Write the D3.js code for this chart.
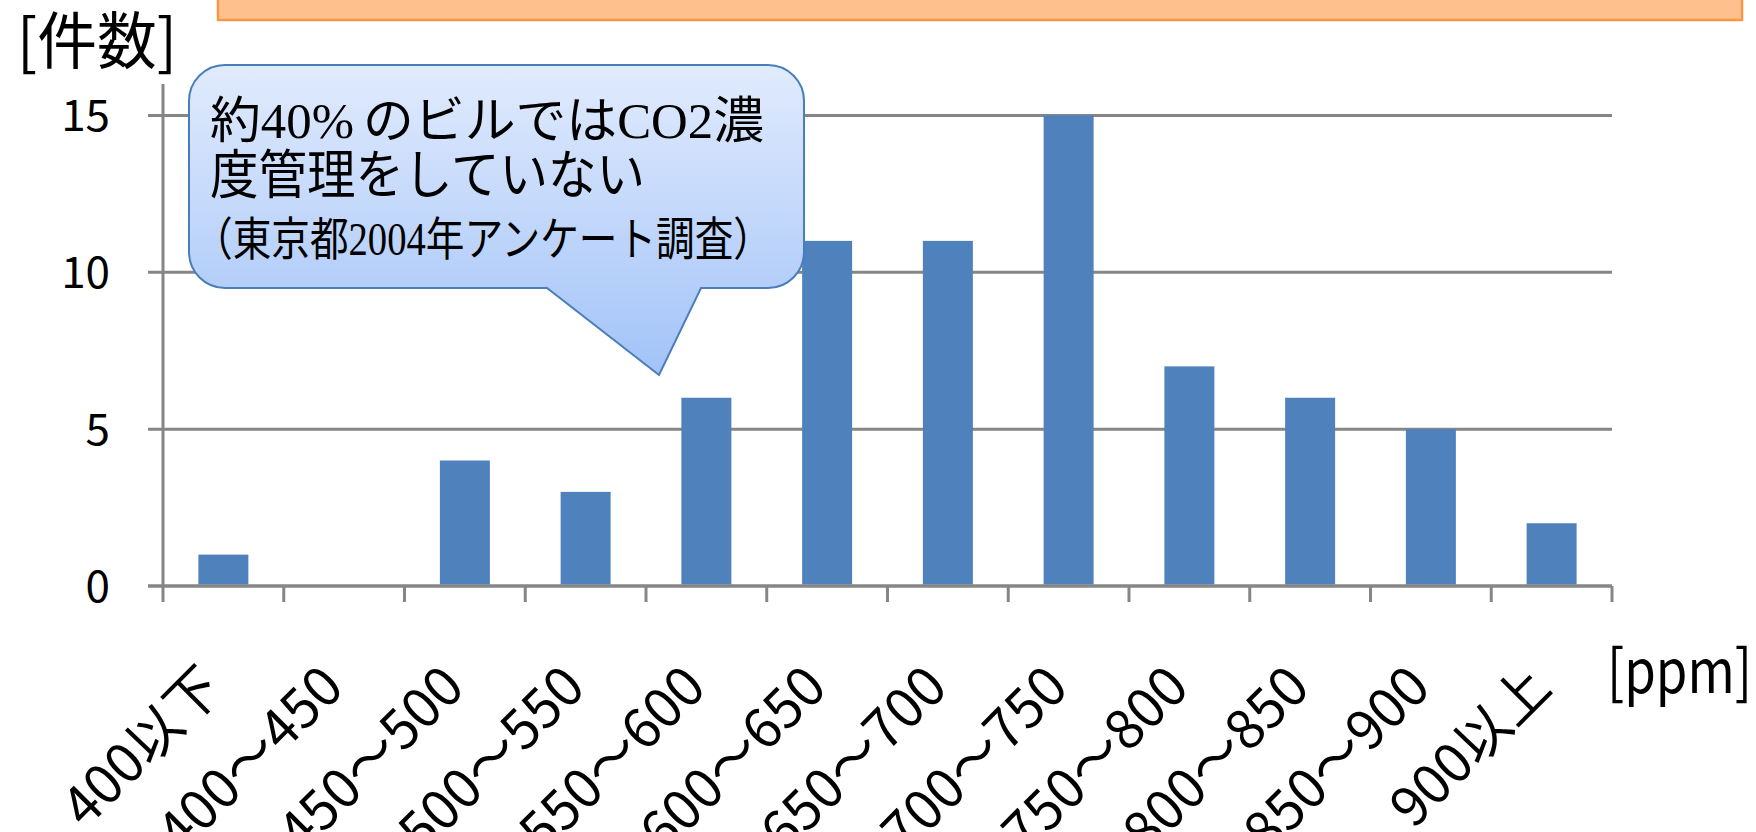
<!DOCTYPE html>
<html><head><meta charset="utf-8">
<script src="https://cdn.jsdelivr.net/npm/d3@7"></script>
<style>body{margin:0;background:#fff;overflow:hidden} svg{display:block}</style>
</head><body><svg id="c" width="1756" height="832"></svg>
<script>
// ---- data ----
const categories = ["400以下","400～450","450～500","500～550","550～600","600～650","650～700","700～750","750～800","800～850","850～900","900以上"];
const counts = [1,0,4,3,6,11,11,15,7,6,5,2];
const yTicks = [0,5,10,15];
const yMax = 16;
const yAxisTitle = "[件数]";
const xAxisTitle = "[ppm]";
const calloutLine1 = [["約",0],["40%",1],["のビルでは",0],["CO2",1],["濃",0]];
const calloutLine2 = [["度管理をしていない",0]];
const calloutLine3 = [["（東京都",0],["2004",1],["年アンケート調査）",0]];

(function () {
// ---- layout ----
const svg = d3.select("#c");
const pL = 163, pR = 1612, pT = 84, pB = 586;
const axisColor = "#868686";
const cjk = "'Noto Sans CJK JP', 'Noto Sans', sans-serif";
const serif = "'Liberation Serif', 'DejaVu Serif', serif";

const x = d3.scaleBand().domain(categories).range([pL, pR]).padding(0);
const y = d3.scaleLinear().domain([0, yMax]).range([pB, pT]);
const barW = x.step() * 0.414;

// orange header box (cut off at top)
svg.append("rect").attr("x", 218).attr("y", -10).attr("width", 1524).attr("height", 30)
  .attr("fill", "#fec08c").attr("stroke", "#f79646").attr("stroke-width", 2.5);

// gridlines
svg.append("g").selectAll("line").data(yTicks).join("line")
  .attr("x1", pL - 15).attr("x2", pR)
  .attr("y1", d => y(d)).attr("y2", d => y(d))
  .attr("stroke", axisColor).attr("stroke-width", 3);

// y axis line
svg.append("line").attr("x1", pL).attr("x2", pL).attr("y1", y(yMax)).attr("y2", pB + 1.5)
  .attr("stroke", axisColor).attr("stroke-width", 3);

// y tick labels
svg.append("g").selectAll("text").data(yTicks).join("text")
  .attr("x", 110).attr("y", d => y(d) + 16)
  .attr("text-anchor", "end").attr("font-family", cjk).attr("font-size", 44).attr("fill", "#000")
  .text(d => d);

// x ticks at band boundaries
const bounds = categories.map(c => x(c)).concat([pR]);
svg.append("g").selectAll("line").data(bounds).join("line")
  .attr("x1", d => d).attr("x2", d => d).attr("y1", pB).attr("y2", pB + 16)
  .attr("stroke", axisColor).attr("stroke-width", 3);

// bars
svg.append("g").selectAll("rect").data(categories).join("rect")
  .attr("x", c => x(c) + (x.step() - barW) / 2)
  .attr("width", barW)
  .attr("y", (c, i) => y(counts[i]))
  .attr("height", (c, i) => Math.max(0, pB - 1.5 - y(counts[i])))
  .attr("fill", "#4f81bd");

// x axis line
svg.append("line").attr("x1", pL - 15).attr("x2", pR).attr("y1", pB).attr("y2", pB)
  .attr("stroke", axisColor).attr("stroke-width", 3);

// x labels rotated
svg.append("g").selectAll("text").data(categories).join("text")
  .attr("transform", c => `translate(${x(c) + x.bandwidth() / 2 + 2},690) rotate(-45)`)
  .attr("text-anchor", "end").attr("font-family", cjk).attr("font-size", 54).attr("fill", "#000")
  .text(c => c);

// axis titles
svg.append("text").attr("x", 17).attr("y", 64).attr("font-family", cjk).attr("font-size", 62)
  .attr("textLength", 160).attr("lengthAdjust", "spacingAndGlyphs").text(yAxisTitle);
svg.append("text").attr("x", 1607).attr("y", 693).attr("font-family", cjk).attr("font-size", 60)
  .attr("textLength", 145).attr("lengthAdjust", "spacingAndGlyphs").text(xAxisTitle);

// callout bubble
const defs = svg.append("defs");
const grad = defs.append("linearGradient").attr("id", "bub").attr("x1", 0).attr("y1", 0).attr("x2", 0).attr("y2", 1);
grad.append("stop").attr("offset", "0%").attr("stop-color", "#e1ebfd");
grad.append("stop").attr("offset", "100%").attr("stop-color", "#a2c3f8");
const bl = 189, br = 804, bt = 65, bb = 288, r = 36;
const p = d3.path();
p.moveTo(bl + r, bt);
p.lineTo(br - r, bt);
p.arcTo(br, bt, br, bt + r, r);
p.lineTo(br, bb - r);
p.arcTo(br, bb, br - r, bb, r);
p.lineTo(701, bb);
p.lineTo(659, 375);
p.lineTo(547, bb);
p.lineTo(bl + r, bb);
p.arcTo(bl, bb, bl, bb - r, r);
p.lineTo(bl, bt + r);
p.arcTo(bl, bt, bl + r, bt, r);
p.closePath();
svg.append("path").attr("d", p.toString()).attr("fill", "url(#bub)")
  .attr("stroke", "#4a7ebb").attr("stroke-width", 2);

function calloutText(segs, xx, yy, fs, len, gapAfterLatin) {
  const t = svg.append("text").attr("x", xx).attr("y", yy).attr("font-size", fs)
    .attr("font-family", cjk).attr("fill", "#000")
    .attr("textLength", len).attr("lengthAdjust", "spacingAndGlyphs");
  segs.forEach(([s, latin], i) => {
    const ts = t.append("tspan").attr("font-family", latin ? serif : cjk).text(s);
    if (gapAfterLatin && i === 2) ts.attr("dx", gapAfterLatin);
  });
}
calloutText(calloutLine1, 210, 138, 50, 554, 9);
calloutText(calloutLine2, 210, 194, 53, 435, 0);
calloutText(calloutLine3, 194, 255, 46, 578, 0);
})();
</script></body></html>
